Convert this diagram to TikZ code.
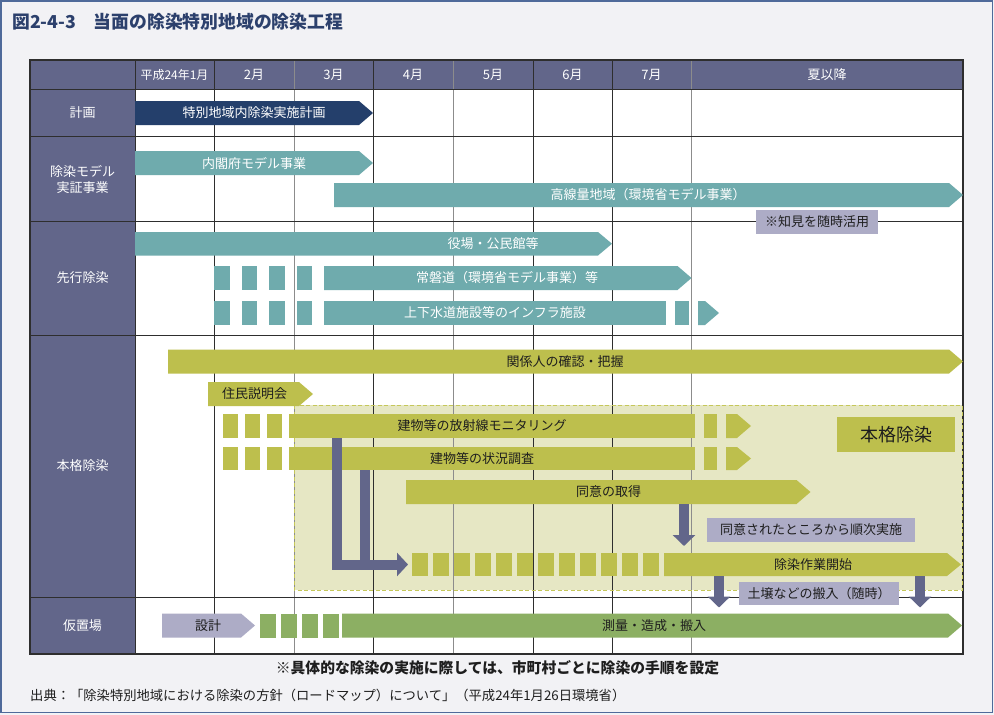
\documentclass[tikz,border=0pt]{standalone}
\usepackage{fontspec}
\setmainfont{Noto Sans CJK JP}
\usetikzlibrary{arrows.meta}
\definecolor{bgc}{HTML}{F2F2F5}
\definecolor{framec}{HTML}{4F6A9A}
\definecolor{titlec}{HTML}{2C406C}
\definecolor{hdr}{HTML}{62668A}
\definecolor{navy}{HTML}{243F6B}
\definecolor{teal}{HTML}{6FABAD}
\definecolor{olive}{HTML}{BDBF4D}
\definecolor{regfill}{HTML}{E6E7C4}
\definecolor{regline}{HTML}{C5C75A}
\definecolor{graybox}{HTML}{ADACC6}
\definecolor{greenc}{HTML}{8CAF63}
\definecolor{gdarkc}{HTML}{2E2E2E}
\definecolor{glightc}{HTML}{8C8C8C}
\definecolor{txtc}{HTML}{1E1E1E}
\newcommand{\fsz}[1]{\fontsize{#1}{#1}\selectfont}
% pentagon arrow bar: colour, x1, x2, ytop, ybottom
\newcommand{\pbar}[5]{\fill[#1] (#2,#4) -- ({#3-14},#4) -- (#3,{(#4+#5)/2}) -- ({#3-14},#5) -- (#2,#5) -- cycle;}
\newcommand{\rbar}[5]{\fill[#1] (#2,#4) rectangle (#3,#5);}
\begin{document}
\begin{tikzpicture}[x=1pt,y=-1pt,
  every node/.style={inner sep=0pt},
  hdrtxt/.style={text=white,font=\fsz{13}},
  wtxt/.style={text=white,font=\fsz{13}},
  btxt/.style={text=txtc,font=\fsz{13}},
  gdark/.style={draw=gdarkc,line width=0.9pt},
  glight/.style={draw=glightc,line width=0.9pt},
  parrow/.style={draw=hdr,line width=10pt,-{Triangle[width=23pt,length=11pt]}},
  pline/.style={draw=hdr,line width=10pt},
  darrow/.style={draw=hdr,line width=10pt,-{Triangle[width=22pt,length=11pt]}}]
\useasboundingbox (0,0) rectangle (994,715);
\fill[bgc] (0,0) rectangle (994,715);
\draw[framec,line width=1.3pt] (1,1) rectangle (992.3,712.8);
% title
\node[anchor=west,text=titlec,font=\fsz{17.8}\bfseries] (title) at (12,21.5) {図2-4-3　当面の除染特別地域の除染工程};
% table backgrounds
\fill[white] (135,89) rectangle (963,654);
\fill[hdr] (30,60) rectangle (963,89);
\fill[hdr] (30,89) rectangle (135,654);
\fill[regfill] (294,405) rectangle (962,590);
% grid
\foreach \x in {214,373,533,612} \draw[gdark] (\x,60) -- (\x,654);
\foreach \x in {294,453,691} \draw[glight] (\x,60) -- (\x,654);
\foreach \y in {89,136,221,335,597} \draw[gdark] (30,\y) -- (963,\y);
\draw[gdark] (135,60) -- (135,654);
\draw[gdark,line width=1.1pt] (30,60) rectangle (963,654);
\draw[regline,line width=0.9pt,dash pattern=on 4pt off 2.5pt] (294,405) rectangle (962,590);
% header texts
\node[hdrtxt,font=\fsz{12}] (h1) at (174.5,74.5) {平成24年1月};
\node[hdrtxt] (h2) at (254,74.5) {2月};
\node[hdrtxt] (h3) at (333.5,74.5) {3月};
\node[hdrtxt] (h4) at (413,74.5) {4月};
\node[hdrtxt] (h5) at (493,74.5) {5月};
\node[hdrtxt] (h6) at (572.5,74.5) {6月};
\node[hdrtxt] (h7) at (651.5,74.5) {7月};
\node[hdrtxt] (h8) at (827,74.5) {夏以降};
% row labels
\node[hdrtxt,align=center,font={\fontsize{13}{16}\selectfont}] (r1) at (82.5,112.5) {計画};
\node[hdrtxt,align=center,font={\fontsize{13}{16}\selectfont}] (r2) at (82.5,179) {除染モデル\\実証事業};
\node[hdrtxt] (r3) at (82.5,278) {先行除染};
\node[hdrtxt] (r4) at (82.5,466) {本格除染};
\node[hdrtxt] (r5) at (82.5,625.5) {仮置場};
% row: plan
\pbar{navy}{135}{373}{101}{125}
\node[wtxt] (plan) at (254,113) {特別地域内除染実施計画};
% row: model
\pbar{teal}{135}{373}{151}{175}
\node[wtxt] (cab) at (254,163) {内閣府モデル事業};
\pbar{teal}{334}{963}{183}{207}
\node[wtxt] (high) at (648,195) {高線量地域（環境省モデル事業）};
\rbar{graybox}{756}{878}{210}{234}
\node[btxt] (know) at (817,222) {※知見を随時活用};
% row: advance decontamination
\pbar{teal}{135}{612}{232}{255.5}
\node[wtxt] (office) at (493,243.7) {役場・公民館等};
\foreach \x in {214,241.5,269,296.5} {\rbar{teal}{\x}{\x+15.5}{266}{290}}
\pbar{teal}{324}{691.5}{266}{290}
\node[wtxt] (road) at (507,278) {常磐道（環境省モデル事業）等};
\foreach \x in {214,241.5,269,296.5} {\rbar{teal}{\x}{\x+15.5}{301}{325}}
\rbar{teal}{324}{666}{301}{325}
\rbar{teal}{675}{689}{301}{325}
\fill[teal] (698,301) -- (705,301) -- (719,313) -- (705,325) -- (698,325) -- cycle;
\node[wtxt] (infra) at (495,313) {上下水道施設等のインフラ施設};
% row: full decontamination
\pbar{olive}{168}{963}{349.5}{373.5}
\node[btxt] (rel) at (565,361.5) {関係人の確認・把握};
\pbar{olive}{208}{313}{382}{406}
\node[btxt] (expl) at (254.5,394) {住民説明会};
\foreach \x in {223,245,267} {\rbar{olive}{\x}{\x+15.3}{414}{438}}
\rbar{olive}{289}{695}{414}{438}
\rbar{olive}{704}{717}{414}{438}
\fill[olive] (726,414) -- (737,414) -- (751,426) -- (737,438) -- (726,438) -- cycle;
\node[btxt] (mon) at (482,426) {建物等の放射線モニタリング};
\foreach \x in {223,245,267} {\rbar{olive}{\x}{\x+15.3}{447}{470}}
\rbar{olive}{289}{695}{447}{470}
\rbar{olive}{704}{717}{447}{470}
\fill[olive] (726,447) -- (737,447) -- (751,458.5) -- (737,470) -- (726,470) -- cycle;
\node[btxt] (surv) at (482,458.5) {建物等の状況調査};
\pbar{olive}{406}{810.5}{480}{504}
\node[btxt] (agree) at (608.5,492) {同意の取得};
\foreach \i in {0,...,11} {\rbar{olive}{412+21*\i}{427.5+21*\i}{553}{576}}
\pbar{olive}{664}{961}{553}{576}
\node[btxt] (work) at (813,564.5) {除染作業開始};
\rbar{olive}{837}{955}{417}{452}
\node[btxt,font=\fsz{18}] (full) at (896,434.5) {本格除染};
\rbar{graybox}{707}{915}{518}{542}
\node[btxt] (seq) at (811,530) {同意されたところから順次実施};
% purple arrows
\coordinate (monB) at (337,438);
\coordinate (survB) at (365,470);
\coordinate (workS) at (408,564.5);
\draw[parrow] (monB) |- (workS);
\draw[pline] (survB) -- (survB |- workS);
\coordinate (agreeB) at (684,504);
\coordinate (agreeT) at (684,546);
\draw[darrow] (agreeB) -- (agreeT);
\coordinate (s1a) at (719,576);
\coordinate (s1b) at (719,607.5);
\coordinate (s2a) at (920,576);
\coordinate (s2b) at (920,607.5);
\draw[darrow] (s1a) -- (s1b);
\draw[darrow] (s2a) -- (s2b);
\rbar{graybox}{739}{899}{582}{605}
\node[btxt] (soil) at (819,593.5) {土壌などの搬入（随時）};
% row: temporary storage
\pbar{graybox}{162}{255}{613.5}{637.5}
\node[btxt] (design) at (208,625.5) {設計};
\foreach \x in {260,281,302,323} {\rbar{greenc}{\x}{\x+15.5}{613.5}{637.5}}
\pbar{greenc}{342}{962}{613.5}{637.5}
\node[btxt] (survey) at (654,625.5) {測量・造成・搬入};
% footer
\node[text=txtc,font=\fsz{14.8}\bfseries] (note) at (497.5,668) {※具体的な除染の実施に際しては、市町村ごとに除染の手順を設定};
\node[anchor=west,text=txtc,font=\fsz{13.3}] (src) at (30,695) {出典：「除染特別地域における除染の方針（ロードマップ）について」（平成24年1月26日環境省）};
\end{tikzpicture}
\end{document}
